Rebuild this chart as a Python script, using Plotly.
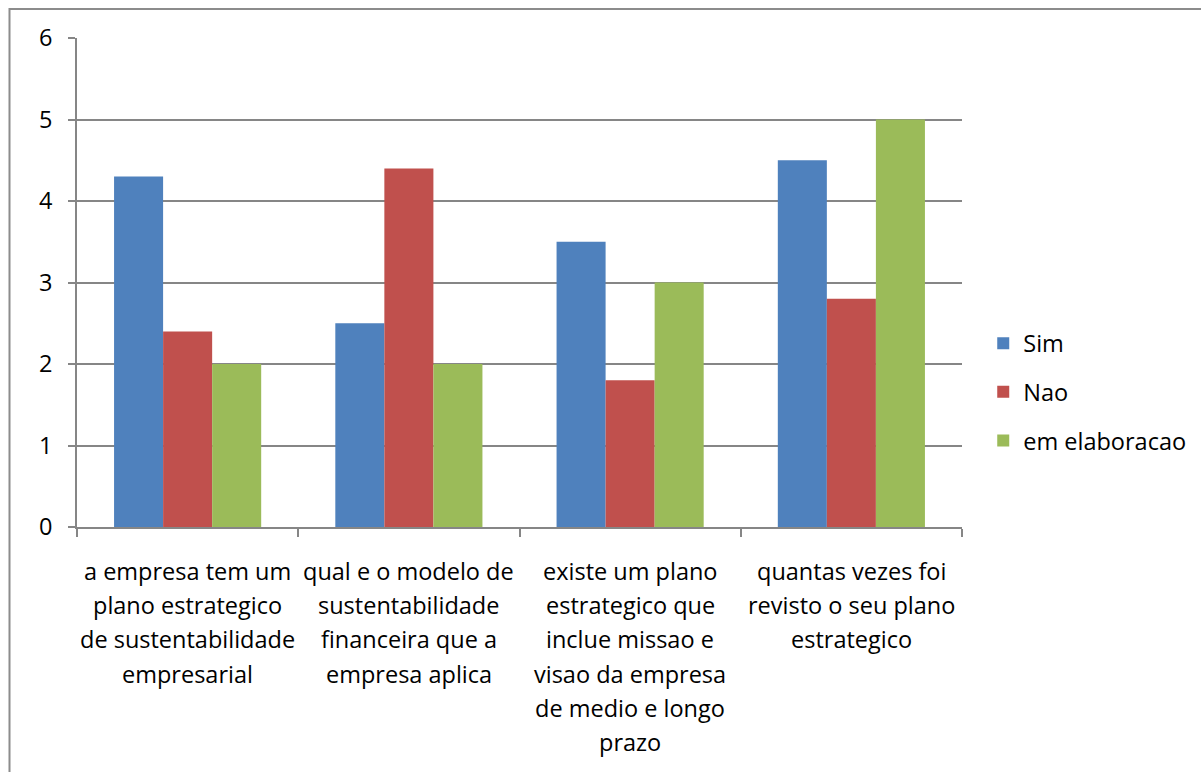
import plotly.graph_objects as go

categories = [
    "a empresa tem um plano estrategico de sustentabilidade empresarial",
    "qual e o modelo de sustentabilidade financeira que a empresa aplica",
    "existe um plano estrategico que inclue missao e visao da empresa de medio e longo prazo",
    "quantas vezes foi revisto o seu plano estrategico",
]
category_lines = [
    ["a empresa tem um", "plano estrategico", "de sustentabilidade", "empresarial"],
    ["qual e o modelo de", "sustentabilidade", "financeira que a", "empresa aplica"],
    ["existe um plano", "estrategico que", "inclue missao e", "visao da empresa", "de medio e longo", "prazo"],
    ["quantas vezes foi", "revisto o seu plano", "estrategico"],
]
series_names = ["Sim", "Nao", "em elaboracao"]
sim = [4.3, 2.5, 3.5, 4.5]
nao = [2.4, 4.4, 1.8, 2.8]
elab = [2.0, 2.0, 3.0, 5.0]
colors = ["#4F81BD", "#C0504D", "#9BBB59"]
y_ticks = [0, 1, 2, 3, 4, 5, 6]

FONT = "Open Sans"
FS = 23.5
GRAY = "#868686"

fig = go.Figure()
for i, (name, vals) in enumerate(zip(series_names, [sim, nao, elab])):
    fig.add_trace(go.Bar(
        x=categories, y=vals, name=name,
        marker=dict(color=colors[i], line=dict(width=0)),
        legendgroup=name,
    ))

annotations = []
for cat, lines in zip(categories, category_lines):
    for j, line in enumerate(lines):
        annotations.append(dict(
            x=cat, y=0, xref="x", yref="y", text=line, showarrow=False,
            xanchor="center", yanchor="middle", yshift=-44 - 34.2 * j,
            font=dict(family=FONT, size=FS, color="#000000"),
        ))

shapes = [dict(
    type="rect", xref="paper", yref="paper",
    xsizemode="pixel", ysizemode="pixel", xanchor=0, yanchor=1,
    x0=-67.5, x1=2000, y0=29, y1=-2000,
    line=dict(color="#8c8c8c", width=2), fillcolor="rgba(0,0,0,0)", layer="below",
)]

fig.update_layout(
    width=1201, height=772,
    margin=dict(l=77, r=239, t=38, b=245, autoexpand=False),
    paper_bgcolor="white", plot_bgcolor="white",
    barmode="group", bargap=0.335, bargroupgap=0,
    font=dict(family=FONT, size=FS, color="#000000"),
    showlegend=True,
    legend=dict(
        x=1.024, y=0.276, xanchor="left", yanchor="middle",
        traceorder="grouped", tracegroupgap=15,
        font=dict(family=FONT, size=FS, color="#000000"),
        itemwidth=30, bgcolor="rgba(0,0,0,0)",
    ),
    annotations=annotations,
    shapes=shapes,
    xaxis=dict(
        type="category", showticklabels=False, tickson="boundaries",
        ticks="outside", ticklen=8, tickcolor=GRAY, tickwidth=1.5,
        showline=True, linecolor=GRAY, linewidth=1.5, showgrid=False,
        zeroline=False,
    ),
    yaxis=dict(
        range=[0, 6], tickvals=y_ticks, ticks="outside", ticklen=7,
        tickcolor=GRAY, tickwidth=1.5, showline=True, linecolor=GRAY, linewidth=1.5,
        showgrid=True, gridcolor=GRAY, gridwidth=1.5, zeroline=False,
        ticklabelstandoff=11,
        tickfont=dict(family=FONT, size=FS, color="#000000"),
    ),
)

fig.write_html("out.html")
